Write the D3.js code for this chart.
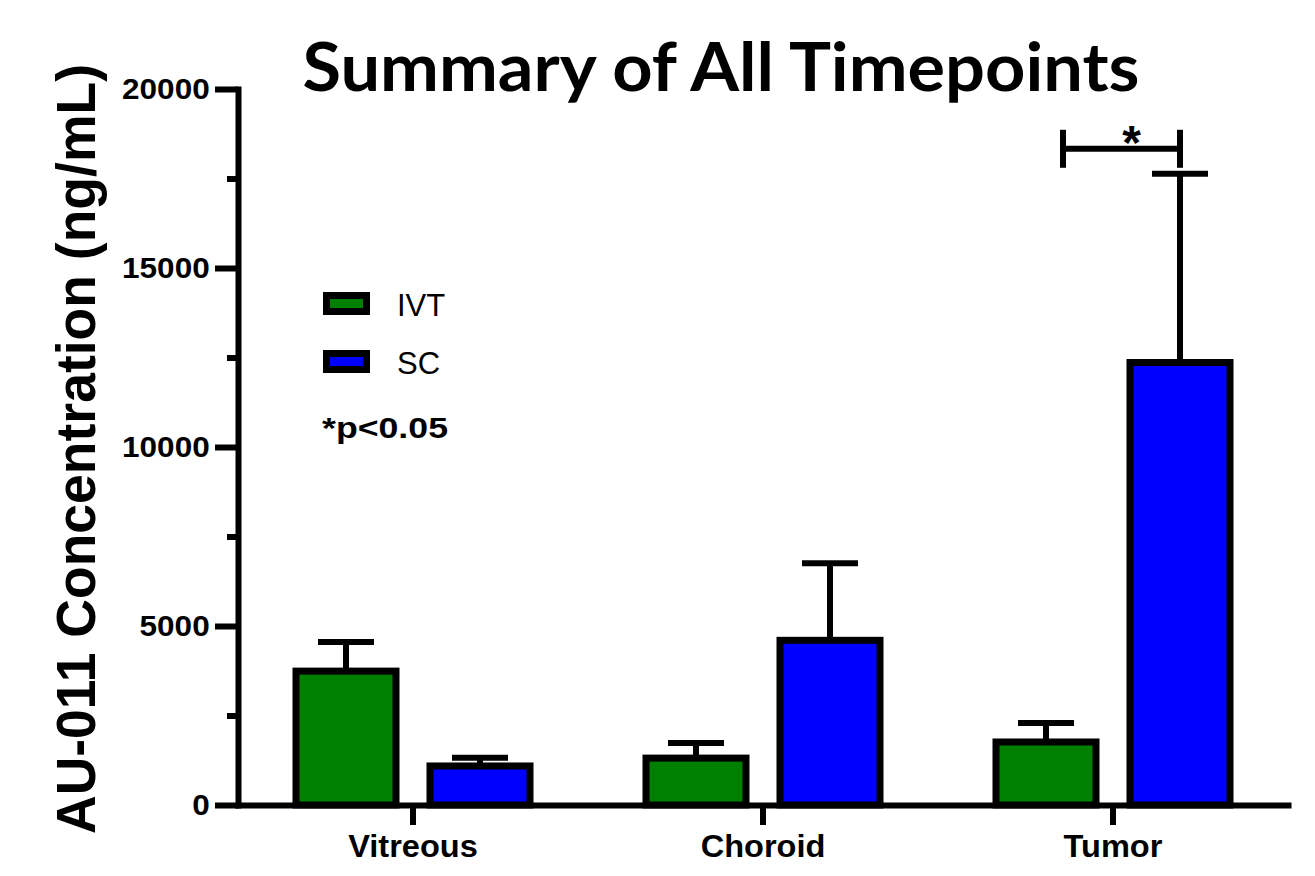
<!DOCTYPE html>
<html>
<head>
<meta charset="utf-8">
<script src="https://cdn.jsdelivr.net/npm/d3@7"></script>
<style>
  html, body { margin: 0; padding: 0; background: #fff; }
  svg { display: block; }
</style>
</head>
<body>
<svg id="chart" width="1315" height="876"></svg>
<script>
// ---------- data ----------
const categories = ["Vitreous", "Choroid", "Tumor"];
const series = ["IVT", "SC"];
const seriesColors = ["#008000", "#0000ff"];
const ivtMean = [3740, 1310, 1760];
const ivtUpper = [4550, 1730, 2290];   // mean + error
const scMean = [1090, 4600, 12360];
const scUpper = [1320, 6750, 17630];   // mean + error
const yMajorTicks = [0, 5000, 10000, 15000, 20000];
const yMinorTicks = [2500, 7500, 12500, 17500];
const titleText = "Summary of All Timepoints";
const yLabelText = "AU-011 Concentration (ng/mL)";
const sigText = "*p<0.05";

// ---------- layout ----------
const svg = d3.select("#chart");
const axisLeftX = 238, axisRightX = 1288;
const y = d3.scaleLinear().domain([0, 20000]).range([805, 89]);
const x0 = d3.scaleBand().domain(categories).range([axisLeftX, axisRightX]);
const xs = d3.scalePoint().domain(series).range([-67, 67]);
const barW = 100;
const sansBold = "'Liberation Sans', Arial, sans-serif";

const rows = [];
categories.forEach((c, i) => {
  rows.push({cat: c, s: "IVT", mean: ivtMean[i], upper: ivtUpper[i], color: seriesColors[0]});
  rows.push({cat: c, s: "SC", mean: scMean[i], upper: scUpper[i], color: seriesColors[1]});
});
const cx = d => x0(d.cat) + x0.bandwidth() / 2 + xs(d.s);

// error bars (upper only)
const eb = svg.append("g");
eb.selectAll("line.stem").data(rows).join("line")
  .attr("x1", cx).attr("x2", cx)
  .attr("y1", d => y(d.mean)).attr("y2", d => y(d.upper))
  .attr("stroke", "#000").attr("stroke-width", 6);
eb.selectAll("line.cap").data(rows).join("line")
  .attr("x1", d => cx(d) - 28).attr("x2", d => cx(d) + 28)
  .attr("y1", d => y(d.upper)).attr("y2", d => y(d.upper))
  .attr("stroke", "#000").attr("stroke-width", 6);

// bars
svg.append("g").selectAll("rect").data(rows).join("rect")
  .attr("x", d => cx(d) - barW / 2)
  .attr("width", barW)
  .attr("y", d => y(d.mean))
  .attr("height", d => y(0) - y(d.mean))
  .attr("fill", d => d.color)
  .attr("stroke", "#000").attr("stroke-width", 7);

// y axis
const yAxis = svg.append("g").attr("transform", `translate(${axisLeftX},0)`)
  .call(d3.axisLeft(y).tickValues(yMajorTicks).tickSize(23).tickSizeOuter(0)
    .tickPadding(4).tickFormat(d3.format("d")));
yAxis.select(".domain").attr("stroke-width", 6).attr("stroke-linecap", "square");
yAxis.selectAll(".tick line").attr("stroke-width", 6);
yAxis.selectAll(".tick text")
  .attr("font-family", sansBold).attr("font-weight", "bold").attr("font-size", 30)
  .attr("fill", "#000")
  .attr("transform", "scale(1.05,1)");

const yMinor = svg.append("g").attr("transform", `translate(${axisLeftX},0)`)
  .call(d3.axisLeft(y).tickValues(yMinorTicks).tickSize(11).tickSizeOuter(0).tickFormat(""));
yMinor.select(".domain").remove();
yMinor.selectAll(".tick line").attr("stroke-width", 6);

// x axis
const xAxis = svg.append("g").attr("transform", `translate(0,${y(0)})`)
  .call(d3.axisBottom(x0).tickSize(20).tickSizeOuter(0).tickPadding(10));
xAxis.select(".domain").attr("stroke-width", 6).attr("stroke-linecap", "square");
xAxis.selectAll(".tick line").attr("stroke-width", 6);
xAxis.selectAll(".tick text")
  .attr("font-family", sansBold).attr("font-weight", "bold").attr("font-size", 31)
  .attr("fill", "#000")
  .attr("transform", "scale(1.05,1)");

// title
svg.append("text")
  .attr("x", 721).attr("y", 91)
  .attr("text-anchor", "middle")
  .attr("font-family", "Lato, 'Open Sans', sans-serif")
  .attr("font-weight", "bold").attr("font-size", 66)
  .attr("textLength", 837).attr("lengthAdjust", "spacingAndGlyphs")
  .text(titleText);

// y label
svg.append("text")
  .attr("transform", "translate(95,449) rotate(-90)")
  .attr("text-anchor", "middle")
  .attr("font-family", sansBold).attr("font-weight", "bold").attr("font-size", 55)
  .attr("textLength", 770).attr("lengthAdjust", "spacingAndGlyphs")
  .text(yLabelText);

// legend
const legend = svg.append("g");
series.forEach((s, i) => {
  const gy = 295.5 + i * 58;
  legend.append("rect")
    .attr("x", 326.5).attr("y", gy).attr("width", 40).attr("height", 16)
    .attr("fill", seriesColors[i]).attr("stroke", "#000").attr("stroke-width", 7);
  legend.append("text")
    .attr("x", 397).attr("y", gy + 20)
    .attr("font-family", "'Liberation Sans', Arial, sans-serif").attr("font-size", 31)
    .text(s);
});
legend.append("text")
  .attr("x", 322).attr("y", 438)
  .attr("font-family", sansBold).attr("font-weight", "bold").attr("font-size", 30)
  .attr("textLength", 126).attr("lengthAdjust", "spacingAndGlyphs")
  .text(sigText);

// significance bracket on Tumor
const tumorCenter = x0("Tumor") + x0.bandwidth() / 2;
const bx1 = tumorCenter - 50, bx2 = tumorCenter + xs("SC");
const by = y(18330);
const br = svg.append("g").attr("stroke", "#000").attr("stroke-width", 6);
br.append("line").attr("x1", bx1).attr("x2", bx2).attr("y1", by).attr("y2", by);
br.append("line").attr("x1", bx1).attr("x2", bx1).attr("y1", by - 19).attr("y2", by + 19);
br.append("line").attr("x1", bx2).attr("x2", bx2).attr("y1", by - 19).attr("y2", by + 19);
svg.append("text")
  .attr("x", (bx1 + bx2) / 2 + 10).attr("y", by + 10)
  .attr("text-anchor", "middle")
  .attr("font-family", sansBold).attr("font-weight", "bold").attr("font-size", 48)
  .text("*");
</script>
</body>
</html>
